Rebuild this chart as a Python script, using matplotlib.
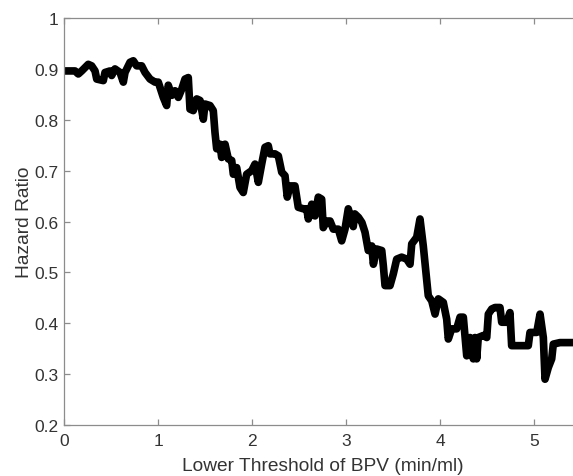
import matplotlib
matplotlib.use("Agg")
import matplotlib.pyplot as plt

# Hazard ratio as a function of the lower BPV threshold
threshold = [
    0.0, 0.114, 0.149, 0.185, 0.255, 0.291, 0.327, 0.345, 0.415, 0.433,
    0.486, 0.504, 0.539, 0.593, 0.628, 0.646, 0.699, 0.734, 0.770, 0.823,
    0.859, 0.912, 0.965, 1.000, 1.018, 1.053, 1.089, 1.106, 1.143, 1.178,
    1.213, 1.249, 1.284, 1.319, 1.337, 1.372, 1.409, 1.444, 1.479, 1.497,
    1.550, 1.585, 1.603, 1.621, 1.656, 1.674, 1.710, 1.745, 1.781, 1.798,
    1.834, 1.869, 1.904, 1.940, 1.994, 2.029, 2.064, 2.100, 2.135, 2.170,
    2.188, 2.241, 2.277, 2.313, 2.348, 2.372, 2.401, 2.454, 2.489, 2.543,
    2.579, 2.596, 2.632, 2.667, 2.702, 2.738, 2.755, 2.791, 2.827, 2.862,
    2.915, 2.951, 2.986, 3.021, 3.074, 3.090, 3.130, 3.166, 3.199, 3.234,
    3.271, 3.288, 3.323, 3.377, 3.394, 3.412, 3.465, 3.500, 3.536, 3.589,
    3.643, 3.678, 3.696, 3.749, 3.784, 3.819, 3.872, 3.909, 3.944, 3.979,
    4.032, 4.068, 4.085, 4.121, 4.174, 4.210, 4.245, 4.281, 4.316, 4.351,
    4.369, 4.387, 4.404, 4.457, 4.494, 4.511, 4.547, 4.582, 4.635, 4.653,
    4.706, 4.741, 4.759, 4.936, 4.954, 5.026, 5.061, 5.096, 5.114, 5.149,
    5.185, 5.202, 5.273, 5.500,
]
hazard_ratio = [
    0.896, 0.896, 0.890, 0.896, 0.909, 0.906, 0.896, 0.880, 0.877, 0.893,
    0.896, 0.887, 0.900, 0.893, 0.874, 0.893, 0.913, 0.916, 0.906, 0.906,
    0.893, 0.880, 0.874, 0.874, 0.864, 0.844, 0.828, 0.868, 0.848, 0.857,
    0.844, 0.860, 0.880, 0.883, 0.821, 0.818, 0.841, 0.838, 0.801, 0.831,
    0.828, 0.818, 0.775, 0.743, 0.752, 0.726, 0.752, 0.723, 0.720, 0.693,
    0.706, 0.667, 0.657, 0.693, 0.700, 0.713, 0.677, 0.713, 0.746, 0.749,
    0.733, 0.733, 0.729, 0.697, 0.690, 0.648, 0.670, 0.670, 0.628, 0.625,
    0.625, 0.605, 0.634, 0.611, 0.648, 0.644, 0.588, 0.601, 0.601, 0.585,
    0.585, 0.562, 0.585, 0.625, 0.590, 0.615, 0.608, 0.598, 0.579, 0.543,
    0.552, 0.516, 0.546, 0.543, 0.513, 0.474, 0.474, 0.497, 0.526, 0.530,
    0.526, 0.516, 0.556, 0.569, 0.605, 0.552, 0.454, 0.444, 0.418, 0.448,
    0.441, 0.408, 0.369, 0.389, 0.389, 0.412, 0.412, 0.336, 0.372, 0.330,
    0.372, 0.330, 0.372, 0.376, 0.372, 0.418, 0.428, 0.431, 0.431, 0.402,
    0.402, 0.421, 0.356, 0.356, 0.382, 0.382, 0.418, 0.372, 0.290, 0.313,
    0.330, 0.359, 0.362, 0.362,
]

x_ticks = [0, 1, 2, 3, 4, 5]
y_ticks = [0.2, 0.3, 0.4, 0.5, 0.6, 0.7, 0.8, 0.9, 1.0]
y_tick_labels = ["0.2", "0.3", "0.4", "0.5", "0.6", "0.7", "0.8", "0.9", "1"]

plt.rcParams["font.family"] = ["Liberation Sans", "DejaVu Sans"]

fig = plt.figure(figsize=(5.73, 4.77), dpi=100)
fig.patch.set_facecolor("white")
# axes run past the right edge of the image, like the cropped original
ax = fig.add_axes([0.1122, 0.1069, 0.9023, 0.8532])

ax.plot(threshold, hazard_ratio, color="black", linewidth=5.5,
        solid_joinstyle="round", solid_capstyle="butt")

ax.set_xlim(0, 5.5)
ax.set_ylim(0.2, 1.0)
ax.set_xticks(x_ticks)
ax.set_yticks(y_ticks)
ax.set_yticklabels(y_tick_labels)

axis_grey = "#8c8c8c"
text_grey = "#333333"
for side in ["left", "bottom", "top"]:
    ax.spines[side].set_color(axis_grey)
    ax.spines[side].set_linewidth(0.9)
ax.spines["right"].set_visible(False)

ax.tick_params(axis="both", direction="in", length=4, width=0.9,
               color=axis_grey, labelcolor=text_grey, labelsize=12.5)
ax.tick_params(axis="x", top=True, pad=6)
ax.tick_params(axis="y", right=False, pad=4)

ax.set_xlabel("Lower Threshold of BPV (min/ml)", fontsize=13.75,
              color=text_grey, labelpad=6)
ax.set_ylabel("Hazard Ratio", fontsize=13.75, color=text_grey, labelpad=1)

plt.savefig("out.png", dpi=100, facecolor="white")
plt.close(fig)
